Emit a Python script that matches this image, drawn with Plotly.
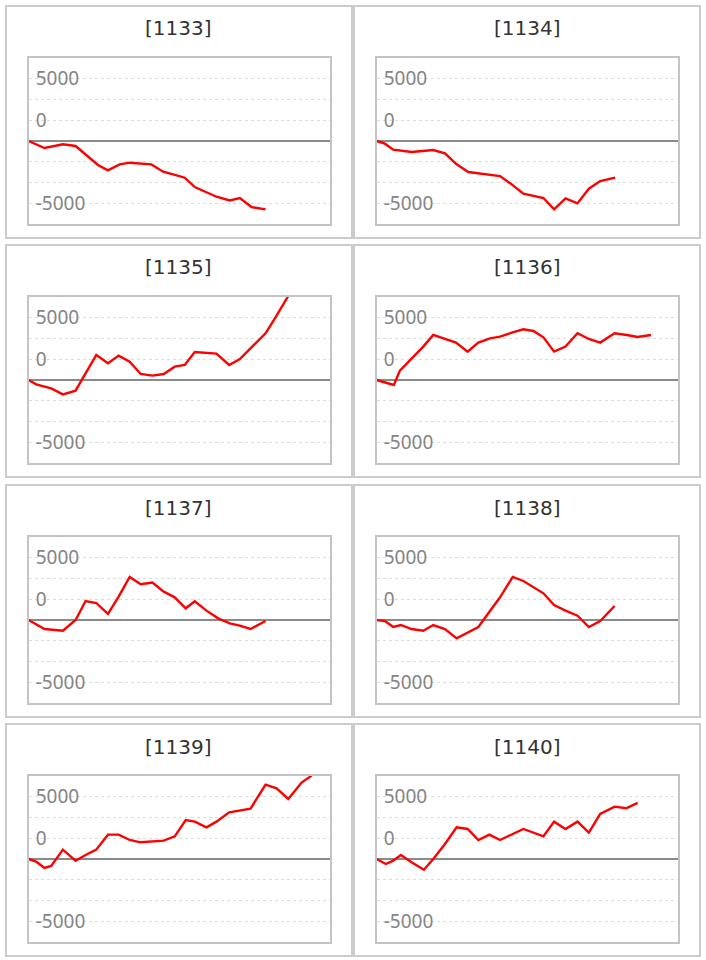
import plotly.graph_objects as go

# ---------------- data (x = games, y = coin difference) ----------------
machines = ["1133", "1134", "1135", "1136", "1137", "1138", "1139", "1140"]

x_1133 = [0, 480, 1030, 1410, 2080, 2380, 2730, 3030, 3680, 4030, 4330, 4680, 4980, 5330, 5630, 6030, 6330, 6680, 7100]
y_1133 = [0, -844, -402, -603, -2894, -3538, -2814, -2613, -2814, -3698, -4020, -4422, -5548, -6150, -6714, -7156, -6874, -7960, -8241]

x_1134 = [0, 250, 500, 1050, 1700, 2050, 2400, 2750, 3700, 4050, 4400, 5000, 5320, 5660, 6020, 6360, 6700, 7150]
y_1134 = [0, -322, -1045, -1327, -1085, -1487, -2814, -3739, -4221, -5226, -6352, -6874, -8241, -6914, -7517, -5749, -4824, -4422]

x_1135 = [0, 230, 680, 1030, 1410, 2030, 2380, 2700, 3030, 3360, 3710, 4050, 4380, 4680, 4980, 5630, 6010, 6330, 6730, 7100, 7430, 7780, 8180]
y_1135 = [0, -523, -1005, -1729, -1286, 3015, 2010, 2935, 2211, 724, 523, 724, 1608, 1809, 3377, 3176, 1809, 2533, 4141, 5628, 7759, 10130, 11800]

x_1136 = [0, 520, 700, 1050, 1400, 1700, 2380, 2730, 3050, 3400, 3700, 4050, 4400, 4700, 5000, 5320, 5660, 6020, 6360, 6700, 7130, 7500, 7820, 8220]
y_1136 = [0, -603, 1126, 2533, 4020, 5427, 4502, 3417, 4502, 5025, 5226, 5708, 6110, 5909, 5146, 3417, 4020, 5628, 4945, 4502, 5628, 5427, 5186, 5427]

x_1137 = [0, 480, 1030, 1410, 1710, 2030, 2380, 2700, 3030, 3360, 3710, 4050, 4380, 4710, 4980, 5330, 5680, 6030, 6330, 6650, 7100]
y_1137 = [0, -1085, -1286, 0, 2291, 2050, 724, 2814, 5186, 4301, 4502, 3417, 2734, 1407, 2251, 1126, 201, -402, -683, -1085, -121]

x_1138 = [0, 250, 500, 730, 1050, 1400, 1700, 2050, 2400, 3050, 3700, 4080, 4400, 5000, 5320, 5660, 6020, 6360, 6700, 7130]
y_1138 = [0, -121, -844, -603, -1085, -1286, -603, -1085, -2211, -844, 2734, 5186, 4703, 3216, 1809, 1126, 523, -844, -121, 1688]

x_1139 = [0, 230, 480, 680, 1030, 1410, 1710, 2030, 2380, 2700, 3030, 3360, 4050, 4380, 4710, 4980, 5330, 5630, 6010, 6650, 7100, 7430, 7780, 8180, 8480]
y_1139 = [0, -322, -1085, -844, 1126, -201, 482, 1126, 2935, 2935, 2291, 2010, 2211, 2734, 4703, 4502, 3819, 4502, 5628, 6070, 8965, 8522, 7236, 9206, 10050]

x_1140 = [0, 280, 500, 730, 1050, 1420, 1700, 2050, 2400, 2730, 3050, 3380, 3700, 4050, 4400, 5000, 5320, 5660, 6020, 6360, 6700, 7130, 7480, 7820]
y_1140 = [0, -603, -201, 482, -402, -1286, 0, 1809, 3819, 3618, 2291, 2935, 2291, 2935, 3618, 2734, 4502, 3618, 4502, 3176, 5427, 6311, 6110, 6754]

y_tickvals = [-7500, -5000, -2500, 2500, 5000, 7500]
y_ticktext = ["-5000", "", "", "0", "", "5000"]

series = [
    (x_1133, y_1133), (x_1134, y_1134), (x_1135, y_1135), (x_1136, y_1136),
    (x_1137, y_1137), (x_1138, y_1138), (x_1139, y_1139), (x_1140, y_1140),
]

# ---------------- layout geometry ----------------
W, H = 706, 960
col_left = [5, 353]
row_top = [5, 244, 484, 723]
PANEL_W, PANEL_H = 348, 234
PL, PR, PT, PB = 23.5, 325, 53, 219

fig = go.Figure()
layout = dict(
    width=W, height=H,
    margin=dict(l=0, r=0, t=0, b=0),
    paper_bgcolor="white", plot_bgcolor="white",
    showlegend=False,
    shapes=[], annotations=[],
)

for i, (name, (xs, ys)) in enumerate(zip(machines, series)):
    r, c = divmod(i, 2)
    cx, ry = col_left[c], row_top[r]
    suffix = "" if i == 0 else str(i + 1)
    fig.add_trace(go.Scatter(
        x=xs, y=ys, mode="lines",
        line=dict(color="#ff0000", width=2.4),
        xaxis="x" + suffix, yaxis="y" + suffix,
        hoverinfo="skip",
    ))
    layout["xaxis" + suffix] = dict(
        domain=[(cx + PL) / W, (cx + PR) / W],
        anchor="y" + suffix,
        range=[0, 9030],
        showgrid=False, zeroline=False, showticklabels=False, ticks="",
        showline=True, mirror=True, linecolor="#c4c4c4", linewidth=2,
        fixedrange=True,
    )
    layout["yaxis" + suffix] = dict(
        domain=[1 - (ry + PB) / H, 1 - (ry + PT) / H],
        anchor="x" + suffix,
        range=[-10000, 10000],
        tickvals=y_tickvals, ticktext=y_ticktext,
        showgrid=True, gridcolor="#dddddd", gridwidth=1, griddash="dot",
        zeroline=True, zerolinecolor="#8a8a8a", zerolinewidth=2,
        showline=True, mirror=True, linecolor="#c4c4c4", linewidth=2,
        ticks="", ticklabelposition="inside", ticklabelstandoff=8,
        tickfont=dict(family="Noto Sans", size=19, color="#858585"),
        fixedrange=True,
    )
    layout["shapes"].append(dict(
        type="rect", xref="paper", yref="paper", layer="below",
        x0=(cx + 1) / W, x1=(cx + PANEL_W - 1) / W,
        y0=1 - (ry + PANEL_H - 1) / H, y1=1 - (ry + 1) / H,
        line=dict(color="#cccccc", width=2), fillcolor="rgba(0,0,0,0)",
    ))
    layout["annotations"].append(dict(
        xref="paper", yref="paper",
        x=(cx + PANEL_W / 2) / W, y=1 - (ry + 23.5) / H,
        xanchor="center", yanchor="middle", showarrow=False,
        text="[" + name + "]",
        font=dict(family="DejaVu Sans", size=20, color="#333333"),
    ))

fig.update_layout(**layout)
fig.write_html(
    "out.html",
    config={"displayModeBar": False},
    post_script="document.body.style.margin='0px';",
)
